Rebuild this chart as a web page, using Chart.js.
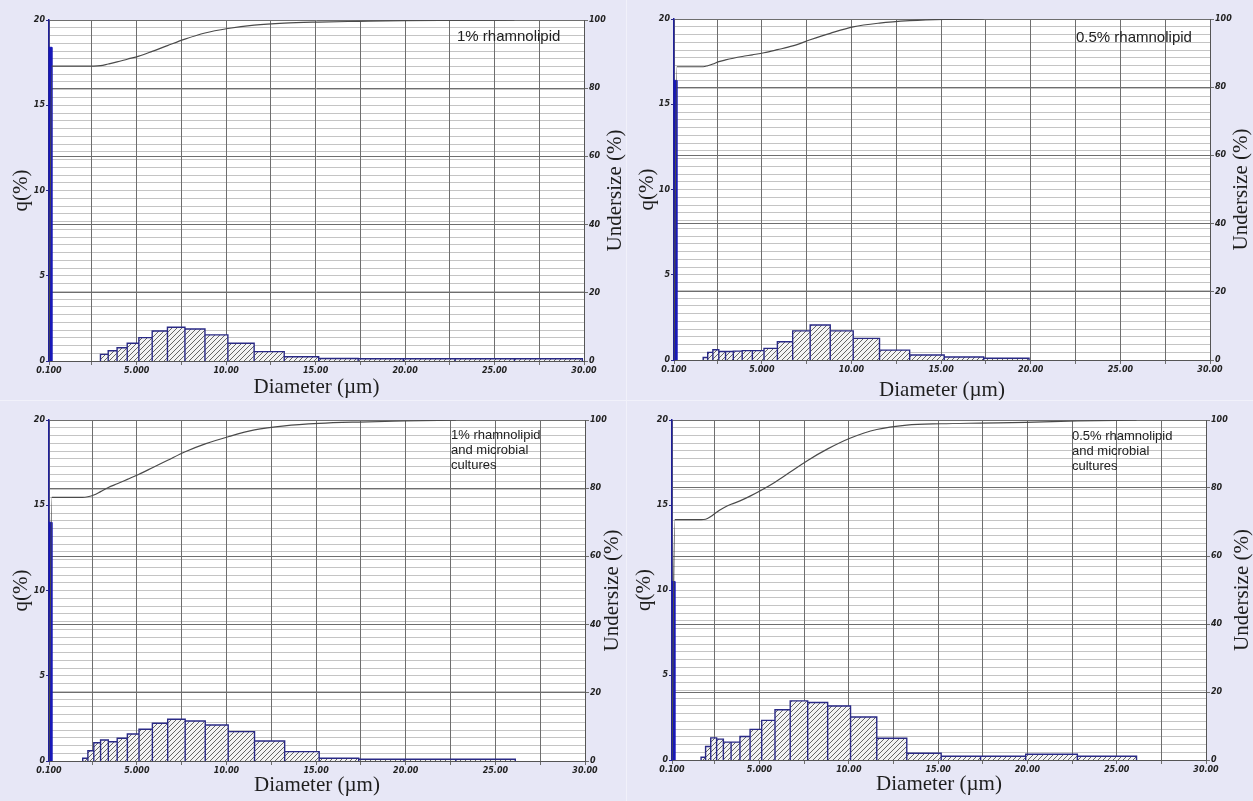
<!DOCTYPE html>
<html>
<head>
<meta charset="utf-8">
<script src="https://cdn.jsdelivr.net/npm/chart.js@4.4.1/dist/chart.umd.min.js"></script>
<style>
  body { margin: 0; background: #f1f1fa; }
  #wrap { position: relative; width: 1253px; height: 801px; overflow: hidden; }
  .panel { position: absolute; width: 626px; height: 400px; background: #e7e7f6; }
</style>
</head>
<body>
<div id="wrap">
  <div class="panel" style="left:0;top:0"><canvas id="c1"></canvas></div>
  <div class="panel" style="left:627px;top:0"><canvas id="c2"></canvas></div>
  <div class="panel" style="left:0;top:401px"><canvas id="c3"></canvas></div>
  <div class="panel" style="left:627px;top:401px"><canvas id="c4"></canvas></div>
</div>
<script>
// size class edges (um), first class is the fine-particle spike
const binEdges = [0.100, 0.259, 1.729, 1.981, 2.269, 2.599, 2.976, 3.409, 3.905, 4.472, 5.122, 5.867,
  6.720, 7.697, 8.816, 10.097, 11.565, 13.246, 15.172, 17.377, 19.904, 22.797, 26.111, 29.907];

// q(%) per class
const q1 = [18.4, 0, 0, 0, 0, 0, 0.39, 0.60, 0.78, 1.04, 1.37, 1.76, 1.98, 1.88, 1.53, 1.04, 0.55, 0.25, 0.15, 0.13, 0.13, 0.13, 0.13];
const q2 = [16.4, 0, 0.15, 0.45, 0.60, 0.50, 0.50, 0.52, 0.55, 0.55, 0.68, 1.07, 1.71, 2.05, 1.71, 1.27, 0.58, 0.29, 0.18, 0.10, 0, 0, 0];
const q3 = [14.0, 0, 0, 0.16, 0.60, 1.07, 1.23, 1.13, 1.33, 1.58, 1.86, 2.21, 2.45, 2.35, 2.11, 1.72, 1.17, 0.55, 0.16, 0.10, 0.10, 0.10, 0];
const q4 = [10.5, 0, 0.16, 0.79, 1.30, 1.23, 1.05, 1.05, 1.38, 1.80, 2.33, 2.96, 3.48, 3.38, 3.18, 2.53, 1.28, 0.40, 0.22, 0.22, 0.34, 0.22, 0];

// undersize (%) at each edge
const cum1 = [0, 86.5, 86.5, 86.5, 86.5, 86.5, 86.6, 87.1, 87.7, 88.5, 89.4, 90.8, 92.5, 94.4, 96.2, 97.5, 98.5, 99.1, 99.4, 99.6, 99.8, 99.9, 100, null];
const cum2 = [0, 86.0, 86.0, 86.3, 86.8, 87.5, 88.0, 88.5, 89.0, 89.5, 90.1, 91.0, 92.1, 93.9, 95.8, 97.7, 98.8, 99.5, 99.9, 100, null, null, null, null];
const cum3 = [0, 77.3, 77.3, 77.3, 77.5, 78.0, 79.0, 80.2, 81.3, 82.6, 84.1, 86.0, 88.2, 90.7, 93.0, 95.1, 97.1, 98.3, 99.0, 99.4, 99.7, 100, null, null];
const cum4 = [0, 70.7, 70.7, 70.8, 71.6, 72.9, 74.1, 75.2, 76.2, 77.6, 79.4, 81.7, 84.7, 88.1, 91.5, 94.7, 97.2, 98.5, 98.9, 99.1, 99.3, 99.7, 100, null];

const xTickValues = [0.1, 2.5, 5, 7.5, 10, 12.5, 15, 17.5, 20, 22.5, 25, 27.5, 30];
const xTickLabels = ['0.100', '', '5.000', '', '10.00', '', '15.00', '', '20.00', '', '25.00', '', '30.00'];
const qTicks = [0, 5, 10, 15, 20];
const underTicks = [0, 20, 40, 60, 80, 100];

const notes1 = ['1% rhamnolipid'];
const notes2 = ['0.5% rhamnolipid'];
const notes3 = ['1% rhamnolipid', 'and microbial', 'cultures'];
const notes4 = ['0.5% rhamnolipid', 'and microbial', 'cultures'];

const tickFont = { family: 'DejaVu Sans', size: 8, weight: 'bold', style: 'italic' };
const serif = '"Liberation Serif", "Times New Roman", serif';

function hatch() {
  const c = document.createElement('canvas');
  c.width = c.height = 5;
  const g = c.getContext('2d');
  g.fillStyle = '#f3f3f3';
  g.fillRect(0, 0, 5, 5);
  g.strokeStyle = '#555';
  g.lineWidth = 0.9;
  g.beginPath();
  g.moveTo(0, 5); g.lineTo(5, 0);
  g.moveTo(-1, 1); g.lineTo(1, -1);
  g.moveTo(4, 6); g.lineTo(6, 4);
  g.stroke();
  return g.createPattern(c, 'repeat');
}

// one closed rectangle per class, broken by nulls
function classRects(q, from, to) {
  const pts = [];
  for (let i = from; i < to; i++) {
    if (!q[i]) continue;
    const a = binEdges[i], b = binEdges[i + 1];
    pts.push({ x: a, y: 0 }, { x: a, y: q[i] }, { x: b, y: q[i] }, { x: b, y: 0 }, { x: b, y: null });
  }
  return pts;
}

const plotBg = {
  id: 'plotBg',
  beforeDraw(chart) {
    const { ctx, chartArea: a } = chart;
    ctx.save();
    ctx.fillStyle = '#ffffff';
    ctx.fillRect(a.left, a.top, a.right - a.left, a.bottom - a.top);
    ctx.restore();
  }
};

const extraText = {
  id: 'extraText',
  afterDraw(chart, args, o) {
    const { ctx, chartArea: a } = chart;
    ctx.save();
    ctx.fillStyle = '#1e1e1e';
    ctx.font = '21px ' + serif;
    ctx.translate(a.right + o.rightOff, (a.top + a.bottom) / 2);
    ctx.rotate(-Math.PI / 2);
    ctx.textAlign = 'center';
    ctx.textBaseline = 'middle';
    ctx.fillText('Undersize (%)', 0, 0);
    ctx.restore();

    ctx.save();
    ctx.fillStyle = '#222';
    ctx.font = o.noteSize + 'px "Liberation Sans", Arial, sans-serif';
    o.note.forEach((line, i) => ctx.fillText(line, o.noteX, o.noteY + i * o.noteLead));
    ctx.restore();
  }
};

function makePanel(id, q, cum, note, box) {
  const W = 626, H = 400;
  new Chart(document.getElementById(id), {
    type: 'line',
    data: {
      datasets: [
        {
          data: cum.map((v, i) => ({ x: binEdges[i], y: v })).filter(p => p.y !== null),
          yAxisID: 'y2', borderColor: '#4a4a4a', borderWidth: 1.2,
          pointRadius: 0, cubicInterpolationMode: 'monotone', order: 0
        },
        {
          data: classRects(q, 1, q.length),
          yAxisID: 'y', borderColor: '#2a2a86', borderWidth: 1.4, backgroundColor: hatch(),
          fill: 'origin', pointRadius: 0, tension: 0, spanGaps: false, order: 1
        },
        {
          data: classRects(q, 0, 1),
          yAxisID: 'y', borderColor: '#1717b8', borderWidth: 1, backgroundColor: '#1717b8',
          fill: 'origin', pointRadius: 0, tension: 0, spanGaps: false, order: 2
        }
      ]
    },
    options: {
      responsive: true, maintainAspectRatio: false, animation: false,
      layout: { padding: { left: 0, right: 0, top: box.top, bottom: 0 } },
      plugins: {
        legend: { display: false }, tooltip: { enabled: false },
        extraText: { rightOff: box.rightOff, note, noteX: box.noteX, noteY: box.noteY, noteLead: box.noteLead, noteSize: box.noteSize }
      },
      scales: {
        yg: {
          position: 'left', min: 0, max: 44, display: true,
          ticks: { display: false, stepSize: 1 },
          grid: { color: '#c4c4c4', lineWidth: 1, drawTicks: false },
          border: { display: false },
          afterFit: s => { s.width = 0; }
        },
        x: {
          type: 'linear', min: 0.1, max: 30,
          afterBuildTicks: s => { s.ticks = xTickValues.map(v => ({ value: v })); },
          ticks: {
            autoSkip: false, maxRotation: 0, padding: 1, color: '#222', font: tickFont,
            callback: (v, i) => xTickLabels[i]
          },
          grid: { color: '#6e6e6e', lineWidth: 1, tickLength: 4 },
          border: { color: '#555' },
          title: { display: true, text: 'Diameter (\u00b5m)', color: '#1e1e1e', font: { family: serif, size: 21 }, padding: { top: 0, bottom: box.xTitlePad } },
          afterFit: s => { s.height = H - box.bottom; }
        },
        y: {
          position: 'left', min: 0, max: 20,
          afterBuildTicks: s => { s.ticks = qTicks.map(v => ({ value: v })); },
          ticks: { color: '#222', font: tickFont, padding: 1 },
          grid: { drawOnChartArea: false, color: '#2a2a86', tickLength: 3 },
          border: { color: '#1f1f9a', width: 1.5 },
          title: { display: true, text: 'q(%)', color: '#1e1e1e', font: { family: serif, size: 21 }, padding: { top: box.yTitlePad, bottom: 0 } },
          afterFit: s => { s.width = box.left; }
        },
        y2: {
          position: 'right', min: 0, max: 100,
          afterBuildTicks: s => { s.ticks = underTicks.map(v => ({ value: v })); },
          ticks: { color: '#222', font: tickFont, padding: 1 },
          grid: { color: '#6e6e6e', lineWidth: 1, tickLength: 4 },
          border: { color: '#555' },
          afterFit: s => { s.width = W - box.right; }
        }
      }
    },
    plugins: [plotBg, extraText]
  });
}

makePanel('c1', q1, cum1, notes1, { left: 49, right: 584, top: 20, bottom: 361, rightOff: 31, yTitlePad: 9, xTitlePad: 0, noteX: 457, noteY: 41, noteLead: 15, noteSize: 15 });
makePanel('c2', q2, cum2, notes2, { left: 47, right: 583, top: 19, bottom: 360, rightOff: 31, yTitlePad: 8, xTitlePad: -3, noteX: 449, noteY: 42, noteLead: 15, noteSize: 15 });
makePanel('c3', q3, cum3, notes3, { left: 49, right: 585, top: 19, bottom: 360, rightOff: 27, yTitlePad: 9, xTitlePad: 3, noteX: 451, noteY: 38, noteLead: 15, noteSize: 13 });
makePanel('c4', q4, cum4, notes4, { left: 45, right: 579, top: 19, bottom: 359, rightOff: 36, yTitlePad: 5, xTitlePad: 4, noteX: 445, noteY: 39, noteLead: 15, noteSize: 13 });
</script>
</body>
</html>
